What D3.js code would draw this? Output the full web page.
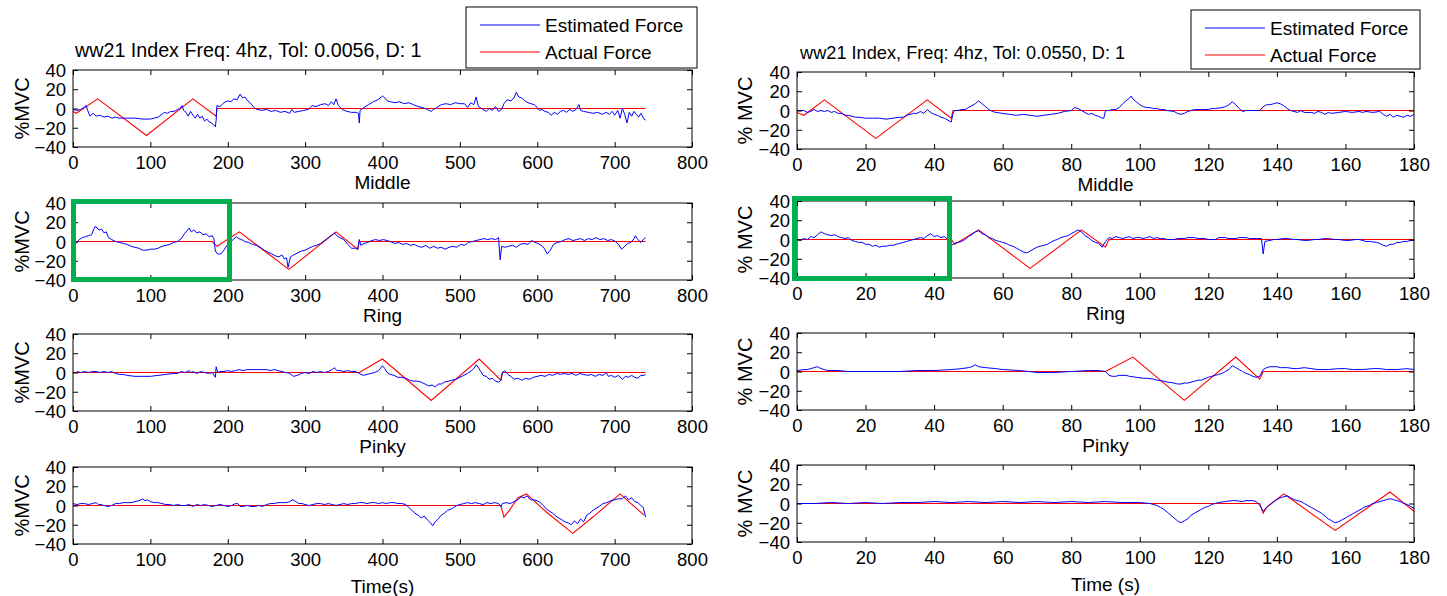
<!DOCTYPE html>
<html>
<head>
<meta charset="utf-8">
<script src="https://cdn.jsdelivr.net/npm/d3@7"></script>
<style>
  body { margin: 0; background: #fff; }
  text { font-family: Arial, "Liberation Sans", sans-serif; fill: #000; }
</style>
</head>
<body>
<div id="canvas"></div>
<script>
// ---- data ----
var yTicks = [-40, -20, 0, 20, 40]
var leftTicks = [0, 100, 200, 300, 400, 500, 600, 700, 800]
var rightTicks = [0, 20, 40, 60, 80, 100, 120, 140, 160, 180]
var leftLabels = ['Middle', 'Ring', 'Pinky', 'Time(s)']
var rightLabels = ['Middle', 'Ring', 'Pinky', 'Time (s)']
var leftTitle = 'ww21 Index Freq: 4hz, Tol: 0.0056, D: 1'
var rightTitle = 'ww21 Index, Freq: 4hz, Tol: 0.0550, D: 1'
var legendNames = ['Estimated Force', 'Actual Force']

// left column (0..740 s)
var lMiddleEst = [[0,-1],[5,-2],[10,-1],[14,1],[17,3],[19,-2],[22,-8],[26,-5],[30,-8],[35,-7],[40,-9],[45,-8],[50,-10],[55,-9],[60,-10],[70,-10],[80,-10],[90,-11],[100,-11],[105,-10],[110,-9],[115,-6],[118,-4],[122,-5],[126,-3],[131,-3],[135,-1],[138,0],[141,3],[143,-2],[146,-4],[149,-8],[152,-3],[155,-7],[158,-10],[161,-6],[164,-10],[167,-8],[170,-13],[173,-11],[176,-14],[179,-15],[182,-17],[184,-19],[185,-12],[186,3],[190,2],[195,6],[200,8],[204,7],[208,10],[212,9],[216,15],[219,11],[222,12],[226,8],[230,5],[234,1],[238,-1],[244,-2],[250,-1],[256,-3],[262,-2],[268,-4],[274,-3],[280,-5],[283,-1],[286,-4],[292,-3],[298,-2],[304,-1],[309,3],[314,2],[320,4],[326,5],[330,3],[334,7],[337,4],[340,10],[343,3],[348,-1],[354,-3],[360,-4],[366,-4],[369,-5],[370,-15],[371,-2],[376,1],[382,4],[388,7],[394,9],[400,13],[403,11],[406,8],[410,7],[416,6],[422,7],[428,5],[434,6],[440,4],[446,2],[452,1],[458,-1],[463,-3],[466,-1],[470,1],[476,4],[482,5],[488,4],[494,6],[500,5],[506,5],[510,1],[514,6],[518,4],[521,12],[524,2],[530,-1],[534,-3],[538,0],[542,-2],[546,2],[550,-3],[554,-1],[557,5],[561,9],[566,8],[570,11],[573,17],[576,12],[580,11],[584,8],[588,6],[592,5],[596,4],[600,1],[603,-2],[606,-1],[610,-3],[614,-4],[618,-7],[622,-4],[626,-6],[630,-3],[634,-2],[638,-4],[642,-1],[646,-3],[650,-1],[654,4],[656,-2],[660,-3],[666,-4],[672,-5],[678,-4],[684,-6],[689,-4],[693,-6],[697,-3],[700,-7],[704,-2],[707,-10],[710,0],[713,-6],[716,-15],[719,-4],[722,-8],[725,-3],[728,-6],[731,-9],[734,-5],[738,-11],[740,-12]]
var lMiddleAct = [[0,-3],[4,-5],[32,10],[95,-28],[155,10],[185,-8],[186,0],[740,0]]

var lRingEst = [[0,-1],[4,-2],[8,2],[12,4],[16,5],[20,6],[24,7],[27,13],[29,16],[31,14],[34,12],[37,13],[40,9],[43,10],[46,4],[50,2],[55,0],[60,-1],[65,-2],[70,-3],[75,-5],[80,-6],[85,-7],[90,-9],[95,-9],[100,-8],[105,-8],[110,-7],[115,-5],[120,-4],[125,-3],[130,-1],[135,0],[140,3],[144,8],[147,11],[150,14],[153,10],[156,12],[160,9],[164,10],[168,7],[172,8],[176,5],[180,6],[182,3],[184,-10],[187,-13],[191,-13],[195,-9],[199,-4],[203,-1],[207,2],[211,5],[214,3],[218,2],[222,0],[227,-1],[232,-3],[237,-4],[242,-6],[247,-9],[252,-11],[257,-13],[262,-15],[266,-16],[270,-14],[273,-18],[276,-17],[278,-27],[281,-16],[285,-14],[290,-12],[295,-10],[300,-9],[305,-7],[310,-5],[315,-4],[320,-2],[325,1],[330,4],[335,7],[338,9],[341,6],[345,4],[350,2],[355,-3],[360,-7],[365,-7],[368,-8],[370,2],[372,-4],[376,-2],[381,-1],[386,1],[391,2],[396,1],[401,2],[406,1],[410,0],[416,-2],[421,-1],[426,-3],[431,-2],[436,-4],[441,-3],[446,-5],[451,-6],[456,-4],[461,-7],[466,-5],[471,-7],[476,-6],[481,-8],[486,-6],[491,-5],[496,-6],[501,-3],[506,-4],[511,-1],[516,0],[521,1],[526,2],[531,3],[536,2],[541,3],[546,2],[550,4],[552,-19],[554,-5],[558,-6],[563,-5],[568,-4],[573,-6],[578,-3],[583,-2],[588,-3],[593,1],[597,-1],[601,-2],[605,-4],[609,-7],[613,-13],[617,-9],[621,-3],[626,-1],[631,0],[636,2],[641,3],[646,1],[651,2],[656,3],[661,1],[666,3],[671,2],[676,4],[681,2],[686,3],[691,1],[696,2],[701,0],[705,-3],[709,-8],[713,-5],[717,-2],[721,-1],[725,3],[727,6],[730,2],[734,-1],[738,3],[740,4]]
var lRingAct = [[0,0],[180,0],[186,-5],[215,10],[279,-29],[340,10],[368,-8],[370,0],[740,0]]

var lPinkyEst = [[5,1],[10,0],[15,1],[20,0],[25,1],[30,1],[35,0],[40,1],[45,0],[50,1],[55,-1],[60,-2],[65,-2],[70,-3],[80,-4],[90,-4],[100,-4],[110,-3],[120,-2],[130,-1],[135,-1],[140,1],[145,0],[150,2],[152,0],[155,1],[160,-1],[165,1],[170,0],[175,-1],[180,0],[184,-5],[185,6],[187,0],[190,1],[195,1],[200,2],[205,1],[210,2],[215,3],[220,2],[225,3],[230,3],[240,3],[250,3],[255,2],[260,3],[265,2],[270,1],[275,0],[280,-1],[285,-4],[290,-3],[295,-1],[300,0],[305,-1],[310,1],[315,0],[320,1],[325,0],[330,1],[335,3],[338,5],[341,2],[345,2],[350,1],[355,2],[360,1],[365,1],[370,-1],[375,-3],[380,-2],[385,-1],[390,0],[395,2],[400,7],[403,4],[406,0],[410,-2],[415,-3],[420,-5],[425,-5],[430,-6],[435,-8],[440,-9],[445,-9],[450,-10],[455,-12],[460,-14],[464,-13],[468,-15],[472,-12],[476,-12],[480,-10],[485,-9],[490,-8],[495,-7],[500,-5],[505,-3],[510,-1],[515,2],[518,4],[521,8],[524,5],[527,1],[530,-3],[534,-4],[538,-7],[542,-6],[546,-9],[550,-10],[553,-8],[555,0],[558,2],[562,-2],[566,-4],[570,-7],[575,-6],[580,-8],[585,-6],[590,-7],[595,-5],[600,-4],[605,-3],[610,-4],[615,-2],[620,-3],[625,-1],[630,-2],[635,-1],[640,-2],[645,-1],[650,-3],[655,-1],[660,-2],[665,-3],[670,-2],[675,-4],[680,-2],[685,-3],[689,0],[692,-4],[696,-3],[700,-5],[705,-3],[710,-7],[714,-4],[718,-5],[722,-3],[726,-5],[730,-6],[734,-3],[738,-3],[740,-2]]
var lPinkyAct = [[0,0],[370,0],[400,14],[463,-29],[525,14],[553,-8],[555,0],[740,0]]

var lTimeEst = [[0,2],[5,1],[10,2],[15,2],[20,1],[25,2],[30,3],[33,1],[36,1],[40,0],[45,-1],[50,0],[55,2],[60,2],[65,3],[70,3],[75,3],[80,4],[85,5],[88,6],[90,7],[93,5],[96,6],[100,4],[105,3],[110,3],[115,2],[120,1],[125,1],[130,0],[135,1],[140,0],[145,0],[150,1],[155,-1],[160,1],[165,0],[170,1],[175,0],[180,-1],[185,0],[190,1],[195,0],[200,-1],[205,0],[210,2],[213,2],[216,-1],[220,-1],[225,0],[230,-1],[235,-1],[240,0],[245,-1],[250,1],[255,2],[260,2],[265,3],[270,3],[275,3],[280,4],[284,6],[288,4],[292,2],[296,2],[300,1],[305,0],[310,1],[315,2],[320,2],[325,1],[330,2],[335,1],[340,0],[345,1],[350,2],[355,1],[360,2],[365,2],[370,3],[375,3],[380,2],[385,3],[390,3],[395,2],[400,3],[405,2],[410,3],[415,3],[420,2],[425,2],[430,1],[434,-2],[438,-5],[442,-8],[446,-10],[450,-13],[454,-11],[458,-15],[462,-18],[465,-21],[468,-17],[472,-14],[476,-10],[480,-8],[484,-5],[488,-4],[492,-2],[496,0],[500,1],[505,2],[510,3],[515,2],[520,3],[525,2],[530,1],[535,3],[540,2],[545,3],[550,2],[553,-1],[555,2],[560,3],[565,2],[570,4],[575,6],[579,9],[583,8],[587,10],[591,6],[595,6],[600,5],[604,3],[608,0],[612,-4],[616,-6],[620,-8],[624,-11],[628,-13],[632,-15],[636,-17],[640,-18],[644,-20],[648,-16],[652,-19],[656,-14],[660,-17],[664,-10],[668,-8],[672,-5],[676,-3],[680,-1],[685,2],[690,3],[695,5],[700,6],[705,7],[710,7],[714,10],[718,6],[722,8],[726,4],[730,3],[734,0],[737,-2],[740,-12]]
var lTimeAct = [[0,0],[553,0],[557,-12],[564,-5],[575,8],[586,12],[612,-7],[646,-29],[672,-12],[707,12],[738,-10]]

// right column (0..180 s)
var rMiddleEst = [[0,0],[2,0],[3,-2],[4,-1],[5,1],[6,-1],[7,0],[8,-1],[9,0],[10,-2],[11,-1],[12,-3],[13,-3],[14,-5],[15,-5],[16,-6],[17,-7],[18,-7],[20,-8],[22,-8],[24,-8],[26,-9],[28,-8],[30,-7],[31,-7],[32,-5],[33,-4],[34,-3],[35,-3],[36,-1],[37,-3],[38,1],[39,-2],[40,-4],[41,-5],[42,-7],[43,-8],[44,-10],[45,-12],[45.5,-3],[46,0],[47,0],[48,1],[49,1],[50,3],[51,5],[52,7],[53,10],[54,7],[55,4],[56,1],[57,-1],[58,-2],[60,-3],[62,-4],[64,-5],[66,-4],[68,-5],[70,-6],[72,-5],[74,-4],[76,-3],[78,-1],[80,0],[81,3],[82,2],[83,0],[84,-2],[85,-4],[86,-3],[87,-5],[88,-6],[89,-8],[89.5,-8],[90,0],[91,0],[92,1],[93,1],[94,3],[95,7],[96,10],[97,13],[97.5,15],[98,12],[99,9],[100,6],[101,4],[102,3],[103,3],[104,2],[105,2],[106,1],[107,1],[108,0],[110,-1],[111,-3],[112,-4],[113,-3],[114,-1],[115,0],[116,1],[118,1],[120,1],[121,2],[122,2],[124,3],[125,4],[126,6],[127,9],[128,6],[129,2],[130,-1],[131,0],[132,0],[134,0],[135,0],[136,4],[137,6],[138,6],[139,7],[140,8],[141,7],[142,5],[143,2],[144,0],[145,-1],[146,-2],[147,0],[148,-2],[150,-2],[151,-3],[152,-1],[153,-2],[154,-4],[155,-2],[156,-3],[158,-2],[160,-1],[162,-2],[164,-1],[165,-2],[166,-1],[168,-2],[170,-1],[171,-4],[172,-6],[173,-4],[174,-7],[175,-5],[176,-6],[177,-7],[178,-5],[179,-6],[180,-4]]
var rMiddleAct = [[0,-2],[2,-5],[8,11],[23,-29],[38,11],[45,-8],[45.5,0],[180,0]]

var rRingEst = [[0,0],[1,-1],[2,1],[3,0],[4,3],[5,2],[6,5],[7,8],[8,6],[9,5],[10,4],[11,5],[12,3],[13,2],[14,1],[15,2],[16,-1],[17,-2],[18,-3],[19,-3],[20,-5],[21,-5],[22,-7],[23,-6],[24,-8],[25,-7],[26,-7],[27,-6],[28,-6],[29,-5],[30,-4],[31,-3],[32,-2],[33,-1],[34,0],[35,1],[36,2],[37,1],[38,4],[39,6],[40,3],[41,4],[42,2],[43,3],[44,0],[45,-6],[46,-4],[47,-3],[48,-2],[49,0],[50,3],[51,5],[52,8],[53,9],[54,6],[55,5],[56,2],[57,1],[58,-1],[59,-2],[60,-3],[61,-4],[62,-6],[63,-7],[64,-9],[65,-11],[66,-13],[67,-14],[68,-12],[69,-10],[70,-8],[71,-7],[72,-6],[73,-5],[74,-3],[75,-1],[76,0],[77,2],[78,3],[79,4],[80,6],[81,8],[82,10],[83,8],[84,4],[85,2],[86,-1],[87,-3],[88,-4],[89,-8],[90,-2],[91,2],[92,1],[93,3],[94,2],[95,1],[96,2],[97,3],[98,1],[99,2],[100,2],[101,1],[102,2],[103,3],[104,1],[105,2],[106,1],[107,1],[108,0],[110,0],[111,1],[113,1],[114,2],[116,2],[117,1],[119,1],[120,0],[122,0],[123,2],[125,2],[126,1],[128,1],[129,2],[131,2],[132,1],[134,1],[135.5,1],[136,-15],[136.5,-2],[138,-1],[139,0],[140,0],[142,1],[143,1],[145,0],[146,0],[148,-1],[149,-1],[151,0],[152,0],[154,1],[155,1],[157,0],[158,0],[160,-1],[161,-1],[163,0],[164,0],[166,-2],[167,-2],[169,-3],[170,-4],[171,-6],[172,-7],[173,-5],[174,-5],[175,-3],[176,-3],[177,-2],[178,-2],[179,-1],[180,-1]]
var rRingAct = [[0,0],[45,0],[46,-5],[53,10],[68,-30],[83,10],[90,-8],[91,0],[180,0]]

var rPinkyEst = [[0,1],[2,2],[3,2],[4,3],[5,4],[6,5],[7,3],[8,2],[9,1],[12,1],[15,0],[20,0],[25,0],[30,0],[35,1],[40,1],[45,2],[48,3],[50,4],[51,5],[52,7],[53,5],[55,4],[58,3],[60,2],[65,1],[70,-1],[75,-1],[80,0],[85,1],[88,1],[90,0],[91,-4],[92,-5],[93,-5],[94,-4],[96,-4],[97,-5],[99,-6],[101,-7],[102,-7],[104,-8],[105,-9],[107,-10],[108,-11],[110,-12],[111,-13],[112,-13],[113,-12],[114,-12],[116,-10],[117,-9],[118,-9],[120,-6],[121,-5],[122,-4],[123,-3],[124,-2],[125,0],[126,2],[127,6],[128,4],[129,2],[130,0],[131,-2],[132,-3],[133,-5],[134,-6],[135,-5],[136,2],[137,4],[138,5],[140,5],[141,4],[143,4],[145,3],[146,3],[148,4],[150,3],[152,2],[155,2],[158,3],[160,3],[162,2],[165,2],[168,3],[170,3],[172,2],[175,2],[178,3],[180,2]]
var rPinkyAct = [[0,0],[90,0],[98,15],[113,-30],[128,15],[135,-8],[136,0],[180,0]]

var rTimeEst = [[0,0],[5,0],[10,1],[15,0],[20,1],[25,0],[30,1],[35,1],[40,2],[45,1],[50,2],[55,1],[60,2],[65,1],[70,2],[75,1],[80,2],[85,1],[90,2],[95,1],[100,1],[103,0],[105,-2],[106,-4],[107,-6],[108,-9],[109,-12],[110,-15],[111,-18],[112,-20],[113,-18],[114,-16],[115,-12],[116,-10],[117,-8],[118,-6],[119,-4],[120,-3],[121,-1],[122,0],[123,1],[125,2],[127,3],[128,3],[130,2],[131,3],[133,3],[134,2],[135,-2],[136,-8],[137,-4],[138,-1],[139,2],[140,4],[141,6],[142,7],[143,8],[144,6],[145,4],[146,3],[147,2],[148,0],[149,-2],[150,-4],[151,-6],[152,-8],[153,-10],[154,-13],[155,-16],[156,-18],[157,-20],[158,-19],[159,-17],[160,-15],[161,-13],[162,-11],[163,-9],[164,-7],[165,-5],[166,-3],[167,-2],[168,0],[169,1],[170,2],[171,3],[172,4],[173,5],[174,4],[175,3],[176,2],[177,0],[178,-1],[179,-3],[180,-5]]
var rTimeAct = [[0,0],[135,0],[136,-10],[137,-4],[142,10],[157,-28],[173,12],[180,-8]]

var leftEst = [lMiddleEst, lRingEst, lPinkyEst, lTimeEst]
var leftAct = [lMiddleAct, lRingAct, lPinkyAct, lTimeAct]
var rightEst = [rMiddleEst, rRingEst, rPinkyEst, rTimeEst]
var rightAct = [rMiddleAct, rRingAct, rPinkyAct, rTimeAct]

// ---- drawing ----
var W = 1447, H = 596
var svg = d3.select('#canvas').append('svg')
    .attr('width', W)
    .attr('height', H)

function drawPanel(col, i) {
    var top = col.tops[i], h = 77
    var x = d3.scaleLinear().domain([0, col.xmax]).range([col.x0, col.x1])
    var y = d3.scaleLinear().domain([-40, 40]).range([top + h, top])
    var g = svg.append('g')

    g.append('rect')
        .attr('x', col.x0).attr('y', top)
        .attr('width', col.x1 - col.x0).attr('height', h)
        .attr('fill', '#fff')

    var line = d3.line().x(d => x(d[0])).y(d => y(d[1]))
    g.append('path').datum(col.act[i])
        .attr('d', line).attr('fill', 'none')
        .attr('stroke', '#ff0000').attr('stroke-width', 1.1)
    g.append('path').datum(col.est[i])
        .attr('d', line).attr('fill', 'none')
        .attr('stroke', '#0000ff').attr('stroke-width', 1)

    // axes, ticks pointing inward on all four sides
    var bottom = g.append('g').attr('transform', 'translate(0,' + (top + h) + ')')
        .call(d3.axisBottom(x).tickValues(col.ticks).tickSizeInner(-5).tickSizeOuter(0).tickPadding(5))
    var topAx = g.append('g').attr('transform', 'translate(0,' + top + ')')
        .call(d3.axisTop(x).tickValues(col.ticks).tickSizeInner(-5).tickSizeOuter(0).tickFormat(''))
    var leftAx = g.append('g').attr('transform', 'translate(' + col.x0 + ',0)')
        .call(d3.axisLeft(y).tickValues(yTicks).tickSizeInner(-5).tickSizeOuter(0).tickPadding(7))
    var rightAx = g.append('g').attr('transform', 'translate(' + col.x1 + ',0)')
        .call(d3.axisRight(y).tickValues(yTicks).tickSizeInner(-5).tickSizeOuter(0).tickFormat(''))
    ;[bottom, topAx, leftAx, rightAx].forEach(function(a) {
        a.select('.domain').remove()
        a.selectAll('line').attr('stroke', '#000')
        a.selectAll('text').style('font-size', '18.5px')
            .style('font-family', 'Arial, "Liberation Sans", sans-serif')
    })
    bottom.selectAll('text').attr('dy', '0.9em')
    leftAx.selectAll('text').attr('dy', '0.36em')

    g.append('rect')
        .attr('x', col.x0).attr('y', top)
        .attr('width', col.x1 - col.x0).attr('height', h)
        .attr('fill', 'none').attr('stroke', '#000').attr('stroke-width', 1)

    // axis titles
    g.append('text')
        .attr('x', (col.x0 + col.x1) / 2)
        .attr('y', top + h + (i == 3 ? 49 : 42))
        .attr('text-anchor', 'middle')
        .style('font-size', '19px')
        .text(col.labels[i])
    g.append('text')
        .attr('transform', 'translate(' + col.ylabX + ',' + (top + h / 2) + ') rotate(-90)')
        .attr('text-anchor', 'middle')
        .attr('dy', '0.35em')
        .style('font-size', '20px')
        .text(col.ylab)
}

var leftCol = { x0: 73, x1: 692, xmax: 800, ticks: leftTicks, tops: [70, 203, 334, 467],
    est: leftEst, act: leftAct, labels: leftLabels, ylab: '%MVC', ylabX: 22 }
var rightCol = { x0: 797, x1: 1414, xmax: 180, ticks: rightTicks, tops: [72, 201, 333, 465],
    est: rightEst, act: rightAct, labels: rightLabels, ylab: '% MVC', ylabX: 745 }

for (var i = 0; i < 4; i++) {
    drawPanel(leftCol, i)
    drawPanel(rightCol, i)
}

// titles
svg.append('text').attr('x', 75).attr('y', 57).style('font-size', '19.7px').text(leftTitle)
svg.append('text').attr('x', 800).attr('y', 59).style('font-size', '18.2px').text(rightTitle)

// legends
function drawLegend(x, y, w, h) {
    var lg = svg.append('g')
    lg.append('rect').attr('x', x).attr('y', y).attr('width', w).attr('height', h)
        .attr('fill', '#fff').attr('stroke', '#000').attr('stroke-width', 1)
    var colors = ['#0000ff', '#ff0000']
    legendNames.forEach(function(name, k) {
        var ly = y + 18 + k * 27
        lg.append('line').attr('x1', x + 14).attr('x2', x + 74)
            .attr('y1', ly).attr('y2', ly)
            .attr('stroke', colors[k]).attr('stroke-width', 1)
        lg.append('text').attr('x', x + 79).attr('y', ly).attr('dy', '0.36em')
            .style('font-size', '19px').text(name)
    })
}
drawLegend(466, 7, 231, 61)
drawLegend(1191, 10, 229, 59)

// green highlight boxes
svg.append('rect').attr('x', 73.5).attr('y', 201.5).attr('width', 156).attr('height', 78)
    .attr('fill', 'none').attr('stroke', '#00b050').attr('stroke-width', 5)
svg.append('rect').attr('x', 794.5).attr('y', 198.5).attr('width', 155).attr('height', 80)
    .attr('fill', 'none').attr('stroke', '#00b050').attr('stroke-width', 5)
</script>
</body>
</html>
